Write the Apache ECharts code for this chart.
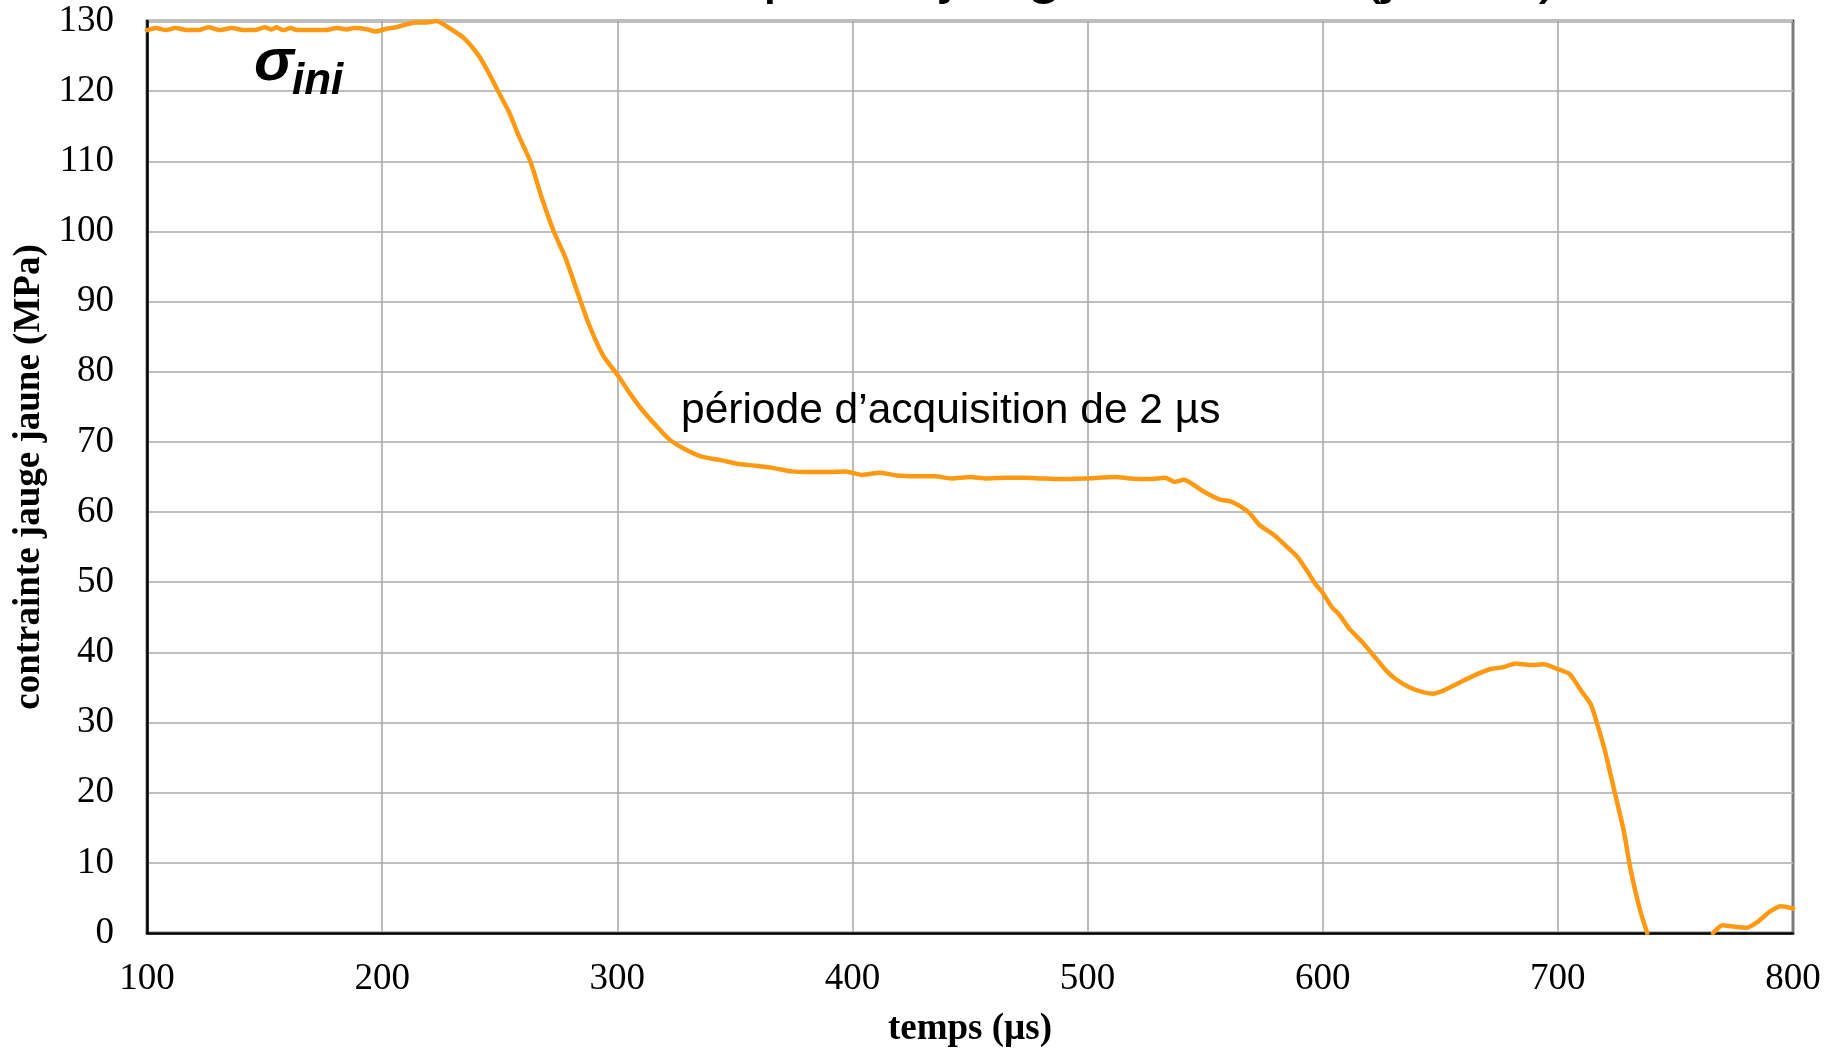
<!DOCTYPE html>
<html>
<head>
<meta charset="utf-8">
<script src="https://cdn.jsdelivr.net/npm/echarts@6/dist/echarts.min.js"></script>
<style>
html,body{margin:0;padding:0;background:#ffffff;}
#chart{width:1839px;height:1053px;}
</style>
</head>
<body>
<div id="chart"></div>
<script>
// ---- data ----
const times = [
  100,104,108,112,117,122,126,131,136,141,146,150,153,155,158,161,164,170,176,181,185,188,194,197,202,206,210,214,219,223,
  229,235,241,245,249,254,258,263,268,273,278,283,288,294,300,305,310,316,322,328,
  336,344,351,359,366,374,382,389,397,404,412,419,427,435,442,450,457,465,473,480,488,499,512,518,526,533,
  537,541,545,549,556,561,565,569,573,579,583,589,593,597,600,604,607,611,617,623,627,631,637,643,647,651,654,660,665,671,677,682,688,694,700,
  705,710,714,717,720,724,728,731,735,738,
  752,
  766,770,774,780,785,790,795,800
];
const stress = [
  128.7,129.0,128.7,129.0,128.7,128.7,129.1,128.7,129.0,128.7,128.7,129.1,128.8,129.1,128.7,129.0,128.7,128.7,128.7,129.0,128.8,129.0,128.8,128.5,128.9,129.1,129.5,129.8,129.8,130.0,
  128.9,127.5,125.1,122.8,120.2,117.0,113.7,110.0,104.7,100.0,96.2,91.4,86.7,82.3,79.6,77.1,74.8,72.5,70.4,69.1,
  67.9,67.4,66.9,66.6,66.3,65.8,65.7,65.7,65.8,65.3,65.6,65.2,65.1,65.1,64.8,65.0,64.8,64.9,64.9,64.8,64.7,64.8,65.0,64.8,64.7,64.9,
  64.3,64.6,63.9,63.0,61.8,61.5,60.8,59.8,58.2,56.8,55.6,53.7,51.8,49.7,48.5,46.4,45.4,43.5,41.4,39.0,37.4,36.2,35.0,34.3,34.1,34.5,35.0,36.0,36.8,37.6,37.9,38.4,38.2,38.3,37.6,
  36.9,34.5,32.6,29.5,26.0,20.3,14.6,8.9,3.2,0.0,
  null,
  0.0,1.1,0.95,0.75,1.6,3.0,3.8,3.5
];
const xTickValues = [100,200,300,400,500,600,700,800];
const yTickValues = [0,10,20,30,40,50,60,70,80,90,100,110,120,130];
const xAxisName = 'temps (µs)';
const yAxisName = 'contrainte jauge jaune (MPa)';
const chartTitle = 'Contrainte mesurée par la jauge centrale (jaune)';
const noteText = 'période d’acquisition de 2 µs';
const sigmaText = 'σ';
const sigmaSubText = 'ini';

const seriesData = times.map((t, i) => [t, stress[i]]);

const chart = echarts.init(document.getElementById('chart'), null, {renderer: 'canvas'});
const serif = '"Liberation Serif", "Times New Roman", serif';
const sans = '"Liberation Sans", Arial, sans-serif';

chart.setOption({
  animation: false,
  backgroundColor: '#ffffff',
  grid: {
    left: 147, right: 46, top: 21, bottom: 117,
    show: true, borderColor: '#000000', borderWidth: 2.5, backgroundColor: 'transparent'
  },
  xAxis: {
    type: 'value',
    min: xTickValues[0], max: xTickValues[xTickValues.length - 1], interval: 100,
    name: xAxisName, nameLocation: 'middle', nameGap: 78,
    nameTextStyle: {fontFamily: serif, fontWeight: 'bold', fontSize: 37, color: '#000'},
    axisLine: {show: true, lineStyle: {color: '#000', width: 2.5}},
    axisTick: {show: false},
    axisLabel: {fontFamily: serif, fontSize: 37, color: '#000', margin: 28},
    splitLine: {show: true, lineStyle: {color: '#a6a6a6', width: 1.5}}
  },
  yAxis: {
    type: 'value',
    min: yTickValues[0], max: yTickValues[yTickValues.length - 1], interval: 10,
    name: yAxisName, nameLocation: 'middle', nameGap: 96, nameRotate: 90,
    nameTextStyle: {fontFamily: serif, fontWeight: 'bold', fontSize: 37, color: '#000'},
    axisLine: {show: true, lineStyle: {color: '#000', width: 2.5}},
    axisTick: {show: false},
    axisLabel: {fontFamily: serif, fontSize: 37, color: '#000', margin: 33},
    splitLine: {show: true, lineStyle: {color: '#bfbfbf', width: 2}}
  },
  series: [{
    type: 'line',
    data: seriesData,
    showSymbol: false,
    symbol: 'none',
    clip: true,
    connectNulls: false,
    smooth: 0.2,
    lineStyle: {color: '#FF9912', width: 4.5, join: 'round', cap: 'round'},
    z: 5
  }],
  graphic: [
    {type: 'text', x: 183, y: -27, silent: true,
     style: {text: chartTitle, font: '64px ' + sans, fill: '#000', align: 'left', verticalAlign: 'middle'}},
    {type: 'text', x: 681, y: 411, silent: true, z: 10,
     style: {text: noteText, font: '42.5px ' + sans, fill: '#000', align: 'left', verticalAlign: 'middle'}},
    {type: 'text', x: 254, y: 63, silent: true, z: 10,
     style: {text: sigmaText, font: 'italic bold 60px ' + sans, fill: '#000', align: 'left', verticalAlign: 'middle'}},
    {type: 'text', x: 292, y: 82, silent: true, z: 10,
     style: {text: sigmaSubText, font: 'italic bold 44px ' + sans, fill: '#000', align: 'left', verticalAlign: 'middle'}}
  ]
});
</script>
</body>
</html>
